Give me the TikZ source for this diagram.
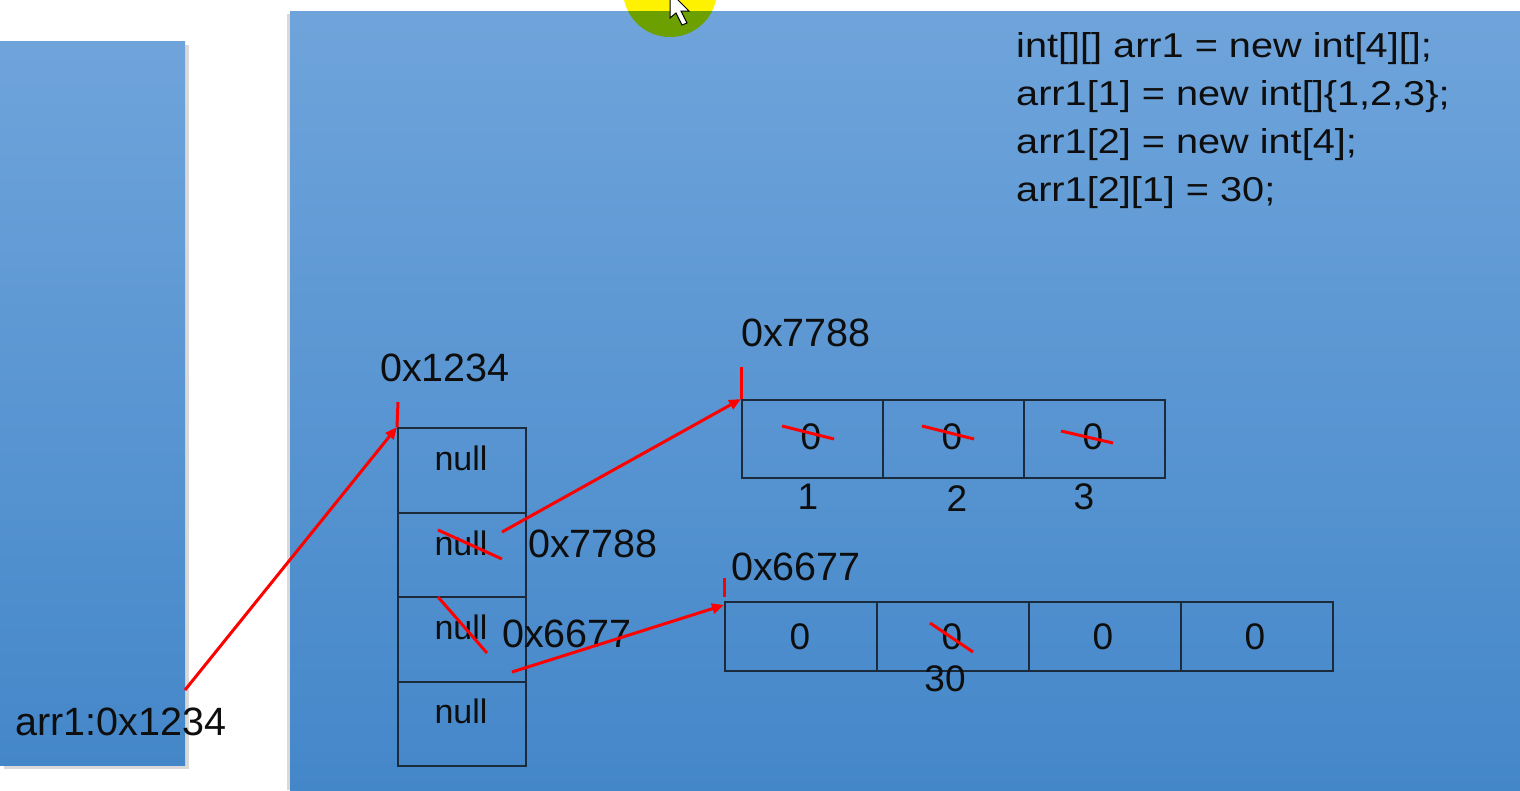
\documentclass[tikz,border=0pt]{standalone}
\usepackage{fontspec}
\setmainfont{Liberation Sans}
\newfontfamily\codefont[FakeStretch=1.15]{Liberation Sans}
\usetikzlibrary{arrows.meta}
\definecolor{paneltop}{HTML}{6FA4DB}
\definecolor{panelbot}{HTML}{4487C9}
\definecolor{ink}{HTML}{0E0E0E}
\definecolor{edge}{HTML}{1B2B3C}
\definecolor{cursorgreen}{HTML}{6BA000}
\definecolor{redline}{HTML}{FF0000}
\begin{document}
\begin{tikzpicture}[x=1pt,y=-1pt,
  lbl/.style={font=\fontsize{39.5}{46}\selectfont, text=ink, inner sep=0pt},
  nulltxt/.style={font=\fontsize{34}{40}\selectfont, text=ink, inner sep=0pt},
  numtxt/.style={font=\fontsize{37}{42}\selectfont, text=ink, inner sep=0pt},
  codetxt/.style={font=\codefont\fontsize{34.5}{48}\selectfont, text=ink, inner sep=0pt, anchor=base west},
  cell/.style={draw=edge, line width=2pt, inner sep=0pt, anchor=north west},
  redarrow/.style={draw=redline, line width=3pt, -{Triangle[length=12pt,width=10pt]}},
  redmark/.style={draw=redline, line width=3pt},
  panel/.style={top color=paneltop, bottom color=panelbot}
]
\useasboundingbox (0,0) rectangle (1520,790);
\fill[white] (0,0) rectangle (1520,790);

% cursor highlight (yellow part over white)
\fill[yellow] (670,-10) circle[radius=47];

% shadows
\fill[black,opacity=0.15] (4,45) rectangle (189,769);
\fill[black,opacity=0.15] (287,14) rectangle (293,790);
% panels
\shade[panel] (0,41) rectangle (185,765);
\shade[panel] (290,11) rectangle (1520,790);

% cursor highlight (green part over panel)
\begin{scope}
  \clip (290,11) rectangle (1520,790);
  \fill[cursorgreen] (670,-10) circle[radius=47];
\end{scope}
% cursor arrow
\filldraw[fill=white, draw=black, line width=1pt]
  (670,-8) -- (670,18) -- (676,13) -- (682,25) -- (687,23) -- (681,11) -- (689,11) -- cycle;

% code
\node[codetxt] (code1) at (1016,57) {int[][] arr1 = new int[4][];};
\node[codetxt] (code2) at (1016,105) {arr1[1] = new int[]\{1,2,3\};};
\node[codetxt] (code3) at (1016,153) {arr1[2] = new int[4];};
\node[codetxt] (code4) at (1016,201) {arr1[2][1] = 30;};

% outer column array
\node[cell, minimum width=128, minimum height=84.5] (c0) at (397,427) {};
\node[cell, minimum width=128, minimum height=84.5] (c1) at (397,511.5) {};
\node[cell, minimum width=128, minimum height=84.5] (c2) at (397,596) {};
\node[cell, minimum width=128, minimum height=84.5] (c3) at (397,680.5) {};
\node[nulltxt] (n0) at (461,458) {null};
\node[nulltxt] (n1) at (461,543) {null};
\node[nulltxt] (n2) at (461,627) {null};
\node[nulltxt] (n3) at (461,711) {null};

% array 0x7788
\node[cell, minimum width=141, minimum height=78] (a1) at (741,399) {};
\node[cell, minimum width=141, minimum height=78] (a2) at (882,399) {};
\node[cell, minimum width=141, minimum height=78] (a3) at (1023,399) {};
\node[numtxt] (z1) at (811,437) {0};
\node[numtxt] (z2) at (952,437) {0};
\node[numtxt] (z3) at (1093,437) {0};
\node[numtxt] (i1) at (808,497) {1};
\node[numtxt] (i2) at (957,499) {2};
\node[numtxt] (i3) at (1084,497) {3};

% array 0x6677
\node[cell, minimum width=152, minimum height=69] (b1) at (724,601) {};
\node[cell, minimum width=152, minimum height=69] (b2) at (876,601) {};
\node[cell, minimum width=152, minimum height=69] (b3) at (1028,601) {};
\node[cell, minimum width=152, minimum height=69] (b4) at (1180,601) {};
\node[numtxt] (y1) at (800,637) {0};
\node[numtxt] (y2) at (952,637) {0};
\node[numtxt] (y3) at (1103,637) {0};
\node[numtxt] (y4) at (1255,637) {0};
\node[numtxt] (v30) at (945,679) {30};

% address labels
\node[lbl] (l1234) at (445,368) {0x1234};
\node[lbl, anchor=west] (l7788top) at (741,333) {0x7788};
\node[lbl, anchor=west] (l6677top) at (731,567) {0x6677};
\node[lbl, anchor=west] (l7788side) at (528,544) {0x7788};
\node[lbl, anchor=west] (l6677side) at (502,634) {0x6677};
\node[lbl, anchor=west] (arr1) at (15,722) {arr1:0x1234};

% strike-outs
\draw[redmark] (438,530) -- (502,559);
\draw[redmark] (438,597) -- (487,653);
\draw[redmark] (782,426) -- (834,439);
\draw[redmark] (922,426) -- (974,439);
\draw[redmark] (1061,431) -- (1113,443);
\draw[redmark] (930,623) -- (973,652);

% marker ticks
\coordinate (t1) at (398,402);
\coordinate (t2) at (741,367);
\coordinate (t3) at (724,578);
\draw[redmark] (t1) -- (c0.north west);
\draw[redmark] (t2) -- (a1.north west);
\draw[redmark] (t3) -- (724,597);

% reference arrows
\coordinate (s0) at (185,690);
\coordinate (s1) at (502,532);
\coordinate (s2) at (512,672);
\coordinate (e2) at (724,605);
\draw[redarrow] (s0) -- (c0.north west);
\draw[redarrow] (s1) -- (a1.north west);
\draw[redarrow] (s2) -- (e2);
\end{tikzpicture}
\end{document}
